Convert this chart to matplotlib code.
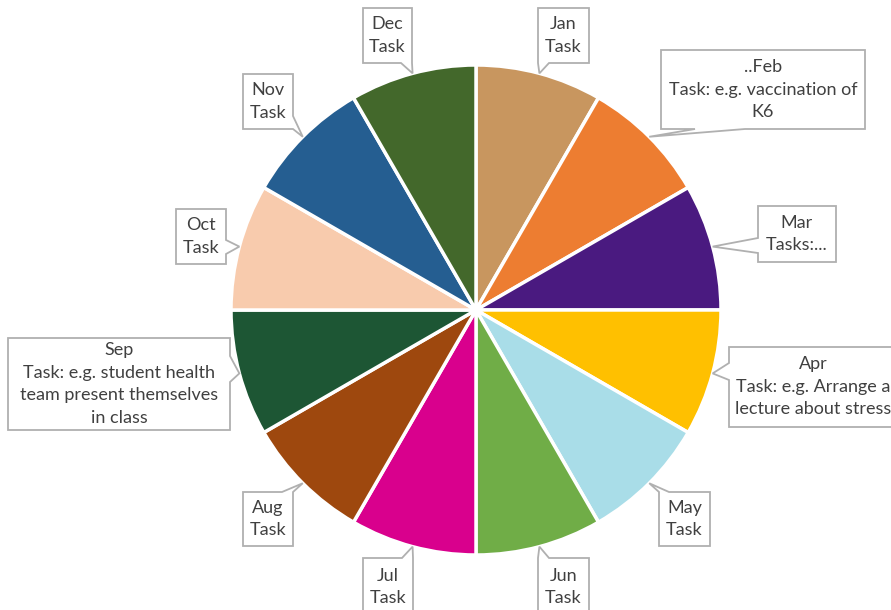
import numpy as np
import matplotlib
matplotlib.use("Agg")
import matplotlib.pyplot as plt
from matplotlib.patches import Polygon

plt.rcParams['font.family'] = ['Lato', 'DejaVu Sans']

######### Chart data #########
months = ['Jan', 'Feb', 'Mar', 'Apr', 'May', 'Jun',
          'Jul', 'Aug', 'Sep', 'Oct', 'Nov', 'Dec']
shares = [1, 1, 1, 1, 1, 1, 1, 1, 1, 1, 1, 1]
callout_texts = [
    'Jan\nTask',
    '..Feb\nTask: e.g. vaccination of\nK6',
    'Mar\nTasks:...',
    'Apr\nTask: e.g. Arrange a\nlecture about stress',
    'May\nTask',
    'Jun\nTask',
    'Jul\nTask',
    'Aug\nTask',
    'Sep\nTask: e.g. student health\nteam present themselves\nin class',
    'Oct\nTask',
    'Nov\nTask',
    'Dec\nTask',
]
colors = ['#c8965f', '#ed7d31', '#4a1a80', '#ffc000', '#a9dde8', '#70ad47',
          '#d9008d', '#9e480e', '#1d5634', '#f8cbad', '#255e91', '#43682b']

######### Layout (pixels, y down) #########
W, H = 891, 610
CX, CY, R = 476, 310, 245
# box: left, top, right, bottom ; pointer side and its base along that side
boxes = {
    'Jan': ((538, 8, 589, 63), 'bottom', 538, 549),
    'Feb': ((661, 50, 865, 129), 'bottom', 695, 745),
    'Mar': ((758, 206, 836, 262), 'left', 238, 253),
    'Apr': ((729, 347, 897, 427), 'left', 363, 380),
    'May': ((659, 492, 710, 546), 'top', 659, 669),
    'Jun': ((538, 558, 589, 625), 'top', 538, 549),
    'Jul': ((363, 558, 413, 625), 'top', 402, 413),
    'Aug': ((243, 492, 293, 546), 'top', 282, 293),
    'Sep': ((8, 338, 230, 430), 'right', 356, 382),
    'Oct': ((176, 209, 226, 264), 'right', 240, 254),
    'Nov': ((243, 74, 293, 129), 'right', 116, 129),
    'Dec': ((363, 8, 412, 63), 'bottom', 401, 412),
}


def callout_outline(box, side, a0, a1, tip):
    l, t, r, b = box
    if side == 'top':
        pts = [(l, t), (a0, t), tip, (a1, t), (r, t), (r, b), (l, b)]
    elif side == 'right':
        pts = [(l, t), (r, t), (r, a0), tip, (r, a1), (r, b), (l, b)]
    elif side == 'bottom':
        pts = [(l, t), (r, t), (r, b), (a1, b), tip, (a0, b), (l, b)]
    else:
        pts = [(l, t), (r, t), (r, b), (l, b), (l, a1), tip, (l, a0)]
    return [(x, H - y) for x, y in pts]


fig = plt.figure(figsize=(W / 100, H / 100), dpi=100)
ax = fig.add_axes([0, 0, 1, 1])

wedges, _ = ax.pie(shares, colors=colors, startangle=90, counterclock=False,
                   center=(CX, H - CY), radius=R,
                   wedgeprops=dict(edgecolor='white', linewidth=2.5))

for wedge, month, text in zip(wedges, months, callout_texts):
    mid = np.deg2rad((wedge.theta1 + wedge.theta2) / 2)
    tip = (CX + R * np.cos(mid), CY - R * np.sin(mid))
    box, side, a0, a1 = boxes[month]
    outline = callout_outline(box, side, a0, a1, tip)
    ax.add_patch(Polygon(outline, closed=True, facecolor='white',
                         edgecolor='#b0b0b0', linewidth=1.3, zorder=5))
    l, t, r, b = box
    if month in ('Jun', 'Jul'):
        cy = t + 29
    else:
        cy = (t + b) / 2
    cx = (l + r) / 2
    ax.text(cx, H - cy, text, ha='center', va='center', multialignment='center',
            fontsize=13, color='#404040', linespacing=1.5, zorder=6)

ax.set_xlim(0, W)
ax.set_ylim(0, H)
ax.set_aspect('auto')
ax.axis('off')

fig.savefig('out.png', dpi=100)
